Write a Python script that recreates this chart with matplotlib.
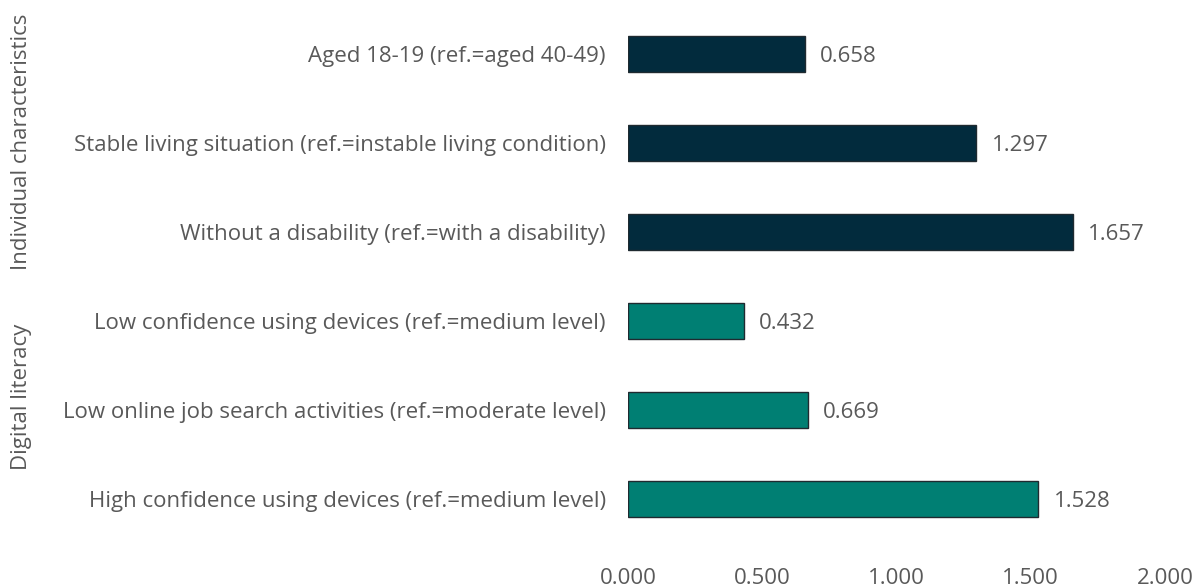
import matplotlib
matplotlib.use("Agg")
import matplotlib.pyplot as plt

plt.rcParams['font.family'] = ['Open Sans', 'DejaVu Sans']

categories = [
    "Aged 18-19 (ref.=aged 40-49)",
    "Stable living situation (ref.=instable living condition)",
    "Without a disability (ref.=with a disability)",
    "Low confidence using devices (ref.=medium level)",
    "Low online job search activities (ref.=moderate level)",
    "High confidence using devices (ref.=medium level)",
]
values = [0.658, 1.297, 1.657, 0.432, 0.669, 1.528]
groups = ["Individual characteristics"] * 3 + ["Digital literacy"] * 3
group_colors = {"Individual characteristics": "#022B3D", "Digital literacy": "#007F73"}
xticks = [0.0, 0.5, 1.0, 1.5, 2.0]

FS = 16
TXT = "#595959"

fig = plt.figure(figsize=(11.94, 5.88), dpi=100)
ax = fig.add_axes([628/1194, 1-543.5/588, (1165-628)/1194, (543.5-9.5)/588])

ypos = list(range(len(categories)))
colors = [group_colors[g] for g in groups]
ax.barh(ypos, values, height=0.41, color=colors, edgecolor="#1f2a30", linewidth=1.0)
ax.set_ylim(len(categories)-0.5, -0.5)
ax.set_xlim(0, 2.0)
ax.set_yticks(ypos)
ax.set_yticklabels(categories, fontsize=FS, color=TXT)
ax.set_xticks(xticks)
ax.set_xticklabels([f"{t:.3f}" for t in xticks], fontsize=FS, color=TXT)
ax.tick_params(axis='y', length=0, pad=16)
ax.tick_params(axis='x', length=0, pad=17.5)
for s in ax.spines.values():
    s.set_visible(False)

for y, v in zip(ypos, values):
    ax.annotate(f"{v:.3f}", xy=(v, y), xytext=(11, -2), textcoords="offset points",
                va="center", ha="left", fontsize=FS, color=TXT)

# group labels
fig.text(22/1194, 1-142/588, "Individual characteristics", rotation=90, va="center", ha="center",
         fontsize=FS, color=TXT)
fig.text(22/1194, 1-397/588, "Digital literacy", rotation=90, va="center", ha="center",
         fontsize=FS, color=TXT)

fig.savefig("out.png", dpi=100)
